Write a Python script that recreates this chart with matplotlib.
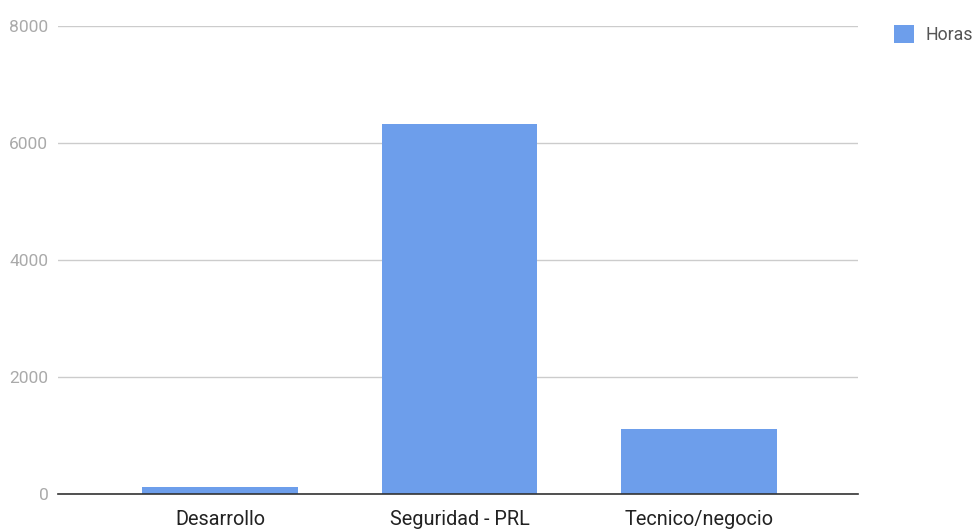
import matplotlib.pyplot as plt
from matplotlib.patches import Patch

# Datos
categorias = ['Desarrollo', 'Seguridad - PRL', 'Tecnico/negocio']
horas = [125, 6330, 1120]
y_ticks = [0, 2000, 4000, 6000, 8000]

COLOR_BARRA = '#6d9eeb'

plt.rcParams['font.family'] = ['Roboto', 'DejaVu Sans']

fig = plt.figure(figsize=(9.8, 5.3), dpi=100)
ax = fig.add_axes([58 / 980, 1 - 494.3 / 530, 800 / 980, 468.3 / 530])

x = list(range(len(categorias)))
ax.bar(x, horas, width=0.65, color=COLOR_BARRA, zorder=3)

ax.set_xlim(-0.676, 2.664)
ax.set_ylim(0, 8000)
ax.set_yticks(y_ticks)
ax.set_yticklabels([str(v) for v in y_ticks])
ax.set_xticks(x)
ax.set_xticklabels(categorias)

ax.grid(axis='y', color='#cccccc', linewidth=1, zorder=0)
for lado in ['top', 'right', 'left']:
    ax.spines[lado].set_visible(False)
ax.spines['bottom'].set_color('#333333')
ax.spines['bottom'].set_linewidth(1.2)
ax.spines['bottom'].set_zorder(4)

ax.tick_params(axis='y', length=0, pad=7, labelsize=12.5, labelcolor='#aaaaaa')
ax.tick_params(axis='x', length=0, pad=11, labelsize=14.3, labelcolor='#222222')

# Leyenda
fig.legend(handles=[Patch(facecolor=COLOR_BARRA, label='Horas')],
           loc='upper left', bbox_to_anchor=(878 / 980, 1 - 9 / 530),
           frameon=False, fontsize=12.8, handlelength=1.15, handleheight=1.15,
           labelcolor='#555555', handletextpad=0.6)

fig.savefig('out.png', dpi=100)
